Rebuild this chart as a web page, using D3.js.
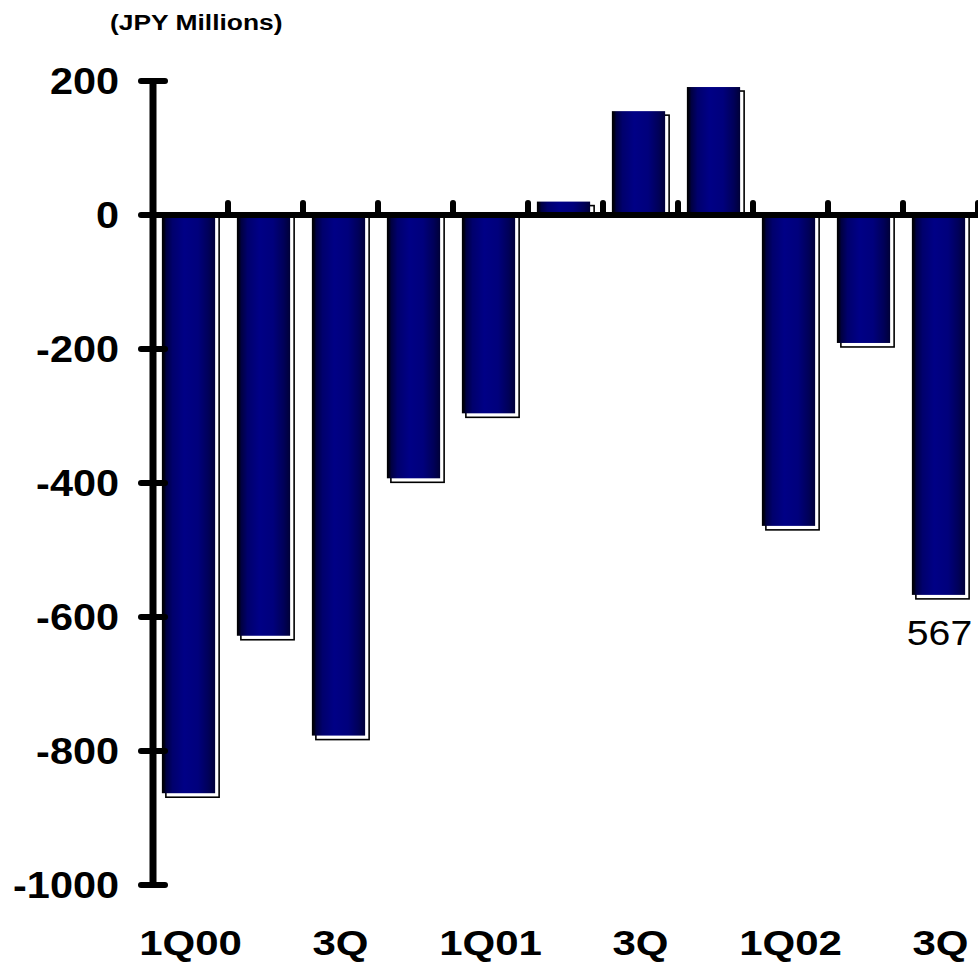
<!DOCTYPE html>
<html>
<head>
<meta charset="utf-8">
<script src="https://cdn.jsdelivr.net/npm/d3@7"></script>
<style>
  html, body { margin: 0; padding: 0; background: #fff; }
  svg { display: block; }
  text { font-family: "Liberation Sans", Arial, sans-serif; fill: #000; }
</style>
</head>
<body>
<svg id="chart" width="978" height="963"></svg>
<script>
const categories = ["1Q00","2Q00","3Q00","4Q00","1Q01","2Q01","3Q01","4Q01","1Q02","2Q02","3Q02"];
const tickLabels = ["1Q00","","3Q","","1Q01","","3Q","","1Q02","","3Q"];
const values = [-863, -628, -777, -393, -296, 20, 155, 191, -464, -191, -567];
const yTicks = [200, 0, -200, -400, -600, -800, -1000];
const valueLabels = [{ cat: "3Q02", text: "567" }];
const unitTitle = "(JPY Millions)";

const svg = d3.select("#chart");
const x0 = 153, x1 = 978;

const x = d3.scaleBand().domain(categories).range([x0, x1]).paddingInner(0.29).paddingOuter(0.145);
const y = d3.scaleLinear().domain([-1000, 200]).range([885, 81]);
const step = x.step();
const bandStart = (d) => x(d) - x.paddingOuter() * step;

// gradient
const defs = svg.append("defs");
const g = defs.append("linearGradient").attr("id", "barGrad").attr("x1", "0%").attr("x2", "100%").attr("y1", "0%").attr("y2", "0%");
[["0%", "#000000"], ["4%", "#000010"], ["8%", "#000040"], ["20%", "#00006c"], ["42%", "#000086"], ["68%", "#00007c"], ["88%", "#000058"], ["100%", "#000038"]]
  .forEach(([o, c]) => g.append("stop").attr("offset", o).attr("stop-color", c));

const bw = x.bandwidth();
const shift = -2, off = 4;

// shadow rects
svg.append("g").selectAll("rect").data(categories).join("rect")
  .attr("x", (d) => x(d) + shift + off)
  .attr("y", (d, i) => values[i] >= 0 ? y(values[i]) + off : y(0))
  .attr("width", bw)
  .attr("height", (d, i) => values[i] >= 0 ? Math.max(0, y(0) - y(values[i]) - off) : y(values[i]) - y(0) + off)
  .attr("fill", "#fff")
  .attr("stroke", "#000")
  .attr("stroke-width", 1.6);

// bars
svg.append("g").selectAll("rect").data(categories).join("rect")
  .attr("x", (d) => x(d) + shift)
  .attr("y", (d, i) => Math.min(y(values[i]), y(0)))
  .attr("width", bw)
  .attr("height", (d, i) => Math.abs(y(values[i]) - y(0)))
  .attr("fill", "url(#barGrad)");

// y axis
svg.append("line").attr("x1", x0).attr("x2", x0).attr("y1", y(200)).attr("y2", y(-1000))
  .attr("stroke", "#000").attr("stroke-width", 7);
svg.append("g").selectAll("line").data(yTicks).join("line")
  .attr("x1", x0 - 12).attr("x2", x0 + 12)
  .attr("y1", (d) => y(d)).attr("y2", (d) => y(d))
  .attr("stroke", "#000").attr("stroke-width", 6).attr("stroke-linecap", "round");
svg.append("g").selectAll("text").data(yTicks).join("text")
  .attr("transform", (d) => `translate(119,${y(d) + 13}) scale(1.12,1)`)
  .attr("text-anchor", "end")
  .attr("font-size", 37).attr("font-weight", "bold")
  .text((d) => d);

// x axis
svg.append("line").attr("x1", x0).attr("x2", x1).attr("y1", y(0)).attr("y2", y(0))
  .attr("stroke", "#000").attr("stroke-width", 6);
svg.append("g").selectAll("line").data(categories).join("line")
  .attr("x1", (d) => bandStart(d) + step)
  .attr("x2", (d) => bandStart(d) + step)
  .attr("y1", y(0)).attr("y2", y(0) - 12)
  .attr("stroke", "#000").attr("stroke-width", 6).attr("stroke-linecap", "round");
svg.append("g").selectAll("text").data(categories).join("text")
  .attr("transform", (d) => `translate(${bandStart(d) + step / 2},955) scale(1.2,1)`)
  .attr("text-anchor", "middle")
  .attr("font-size", 35).attr("font-weight", "bold")
  .text((d, i) => tickLabels[i]);

// value label
svg.append("g").selectAll("text").data(valueLabels).join("text")
  .attr("transform", (d) => `translate(${bandStart(d.cat) + step / 2 - 1},645) scale(1.12,1)`)
  .attr("text-anchor", "middle")
  .attr("font-size", 35)
  .text((d) => d.text);

// unit title
svg.append("text")
  .attr("transform", "translate(110,30) scale(1.2,1)")
  .attr("font-size", 22).attr("font-weight", "bold")
  .text(unitTitle);
</script>
</body>
</html>
